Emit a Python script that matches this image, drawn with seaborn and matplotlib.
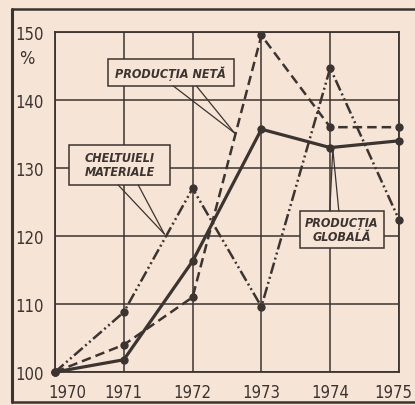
import matplotlib.pyplot as plt
from matplotlib.patches import Rectangle
from matplotlib.lines import Line2D
from matplotlib.transforms import ScaledTranslation
import seaborn as sns
import pandas as pd

ani = [1970, 1971, 1972, 1973, 1974, 1975]
productia_neta = [100, 104, 111, 149.5, 136, 136]
productia_globala = [100, 101.8, 116.3, 135.7, 133, 134]
cheltuieli_materiale = [100, 108.8, 127, 109.6, 144.7, 122.4]
y_ticks = [100, 110, 120, 130, 140, 150]

ink = '#3c3430'
paper = '#f6e4d6'

df = pd.DataFrame({
    'an': ani * 3,
    'valoare': productia_neta + productia_globala + cheltuieli_materiale,
    'serie': ['neta'] * 6 + ['globala'] * 6 + ['cheltuieli'] * 6,
})

sns.set_theme(style='white')
plt.rcParams['font.family'] = ['DejaVu Sans']
plt.rcParams['font.stretch'] = 'condensed'

fig = plt.figure(figsize=(4.15, 4.06), dpi=100, facecolor=paper)
ax = fig.add_axes([55 / 415, 1 - 373 / 406, 344 / 415, 340 / 406])
ax.set_facecolor(paper)

sns.lineplot(
    data=df, x='an', y='valoare', hue='serie', style='serie', size='serie',
    palette={'neta': ink, 'globala': ink, 'cheltuieli': ink},
    dashes={'neta': (3.8, 2.0), 'globala': '', 'cheltuieli': (4.6, 1.3, 0.8, 1.3, 0.8, 1.3)},
    markers={'neta': 'o', 'globala': 'o', 'cheltuieli': 'o'},
    sizes={'neta': 1.8, 'globala': 2.3, 'cheltuieli': 1.8},
    markersize=6, markeredgewidth=0, clip_on=False, legend=False, ax=ax, zorder=5,
)

ax.set_xlim(1970, 1975)
ax.set_ylim(100, 150)
ax.set_xticks(ani)
ax.set_yticks(y_ticks)
ax.grid(True, color=ink, linewidth=1.1, zorder=0)
ax.set_axisbelow(True)
for s in ax.spines.values():
    s.set_color(ink)
    s.set_linewidth(1.3)
ax.tick_params(length=0, colors=ink, labelsize=12)
ax.tick_params(axis='y', pad=8)
ax.tick_params(axis='x', pad=8)
ax.set_xlabel('')
ax.set_ylabel('')
xl = ax.get_xticklabels()
xl[0].set_transform(xl[0].get_transform() + ScaledTranslation(0.12, 0, fig.dpi_scale_trans))
xl[-1].set_transform(xl[-1].get_transform() + ScaledTranslation(-0.06, 0, fig.dpi_scale_trans))
ax.text(-0.06, 0.925, '%', transform=ax.transAxes, ha='right', va='center',
        fontsize=13, color=ink)


def px(x, y):
    # pixel position in the figure -> data coordinates
    return 1970 + (x - 55) / 68.6, 100 + (373 - y) / 6.8


def caseta(x0, y0, x1, y1, text, base, tip):
    bx, by = px(x0, y1)
    ax.add_patch(Rectangle((bx, by), (x1 - x0) / 68.6, (y1 - y0) / 6.8,
                           facecolor=paper, edgecolor=ink, linewidth=1.1,
                           zorder=3, clip_on=False))
    cx, cy = px((x0 + x1) / 2, (y0 + y1) / 2)
    ax.text(cx, cy, text, ha='center', va='center', fontsize=9,
            fontstyle='italic', fontweight='bold', color=ink, zorder=4,
            linespacing=1.1)
    for b in base:
        p0, p1 = px(*b), px(*tip)
        ax.add_line(Line2D([p0[0], p1[0]], [p0[1], p1[1]], color=ink,
                           linewidth=0.9, zorder=3))


caseta(108, 60, 233, 87, 'PRODUCȚIA NETĂ', [(173, 87), (196, 87)], (234, 134))
caseta(69, 146, 170, 186, 'CHELTUIELI\nMATERIALE', [(118, 186), (138, 186)], (164, 235))
caseta(299, 212, 383, 249, 'PRODUCȚIA\nGLOBALĂ', [(329, 212), (338, 212)], (332, 150))

# outer frame of the printed figure
for xs, ys, lw in [([12, 12], [10, 403], 2.2), ([12, 415], [10, 10], 1.8), ([12, 415], [403, 403], 1.8)]:
    fig.add_artist(Line2D([x / 415 for x in xs], [1 - y / 406 for y in ys],
                          color=ink, linewidth=lw, transform=fig.transFigure))

fig.savefig('out.png', dpi=100, facecolor=paper)
